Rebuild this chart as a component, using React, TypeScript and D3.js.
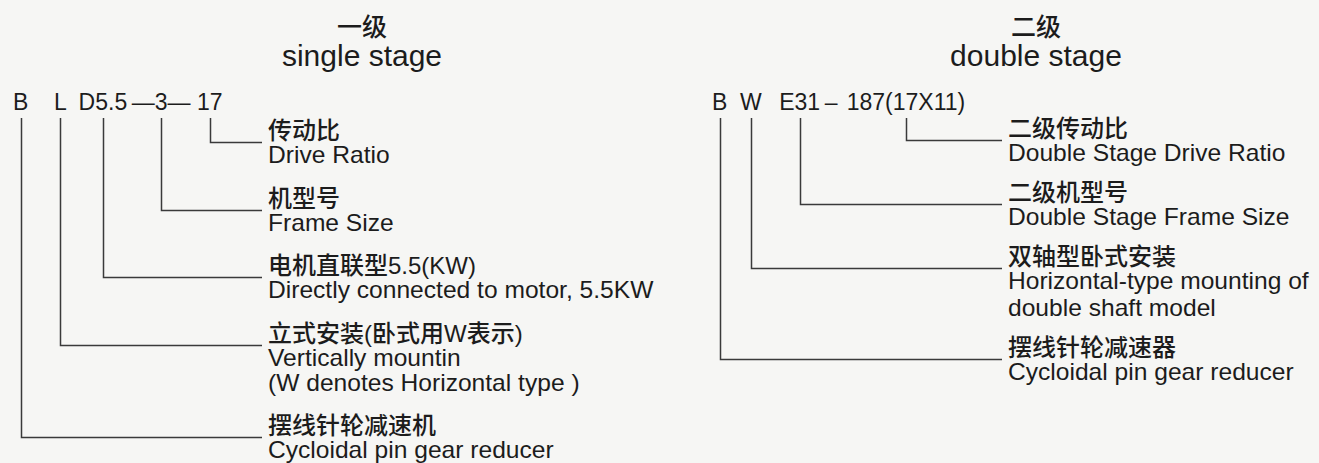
import { useEffect, useRef } from "react";
import * as d3 from "d3";

const WIDTH = 1319;
const HEIGHT = 463;

// single stage
const singleTitleCn = "一级";
const singleTitleEn = "single stage";
const singleCode = "B    L  D5.5\u2009—3— 17";
const singleAnchors = ["17", "3", "D5.5", "L", "B"];
const singleCn = [
  "传动比",
  "机型号",
  "电机直联型5.5(KW)",
  "立式安装(卧式用W表示)",
  "摆线针轮减速机",
];
const singleEn = [
  ["Drive Ratio"],
  ["Frame Size"],
  ["Directly connected to motor, 5.5KW"],
  ["Vertically mountin", "(W denotes Horizontal type )"],
  ["Cycloidal pin gear reducer"],
];

// double stage
const doubleTitleCn = "二级";
const doubleTitleEn = "double stage";
const doubleCode = "B  W  \u2009E31\u2009–\u2009\u2009187(17X11)";
const doubleAnchors = ["17", "E31", "W", "B"];
const doubleCn = ["二级传动比", "二级机型号", "双轴型卧式安装", "摆线针轮减速器"];
const doubleEn = [
  ["Double Stage Drive Ratio"],
  ["Double Stage Frame Size"],
  ["Horizontal-type mounting of", "double shaft model"],
  ["Cycloidal pin gear reducer"],
];

const LATIN = "'Liberation Sans', Arial, Helvetica, sans-serif";
const MIXED = "'Liberation Sans', 'Noto Sans CJK SC', sans-serif";
const CJK = "'Noto Sans CJK SC', 'Noto Sans', sans-serif";
const INK = "#1c1c1c";
const LINE = "#3a3a3a";
const EN_STRETCH = 1.07;

interface PanelLayout {
  titleX: number;
  codeX: number;
  labelX: number;
  firstCn: number;
  cnToEn: number;
  enLine: number;
  enToCn: number;
}

const LEFT: PanelLayout = { titleX: 362, codeX: 13, labelX: 268, firstCn: 139, cnToEn: 24, enLine: 25, enToCn: 43.5 };
const RIGHT: PanelLayout = { titleX: 1036, codeX: 712, labelX: 1008, firstCn: 137, cnToEn: 24, enLine: 26.5, enToCn: 40 };

function drawPanel(
  svg: d3.Selection<SVGSVGElement, unknown, null, undefined>,
  lay: PanelLayout,
  titleCn: string,
  titleEn: string,
  code: string,
  anchors: string[],
  cn: string[],
  en: string[][]
) {
  const g = svg.append("g");

  g.append("text")
    .attr("x", lay.titleX)
    .attr("y", 36)
    .attr("text-anchor", "middle")
    .attr("font-family", CJK)
    .attr("font-size", 25)
    .attr("font-weight", 500)
    .attr("fill", INK)
    .text(titleCn);

  g.append("text")
    .attr("x", lay.titleX)
    .attr("y", 66)
    .attr("text-anchor", "middle")
    .attr("font-family", LATIN)
    .attr("font-size", 30)
    .attr("fill", INK)
    .text(titleEn);

  const codeText = g
    .append("text")
    .attr("x", lay.codeX)
    .attr("y", 110)
    .attr("font-family", LATIN)
    .attr("font-size", 23)
    .attr("fill", INK)
    .style("white-space", "pre")
    .text(code);
  const node = codeText.node() as SVGTextElement;

  // baseline of every label row, stacked from the top
  const rowY: number[] = [];
  let y = lay.firstCn;
  en.forEach((lines) => {
    rowY.push(y);
    y += lay.cnToEn + (lines.length - 1) * lay.enLine + lay.enToCn;
  });

  anchors.forEach((a, i) => {
    const idx = code.indexOf(a);
    const x0 = node.getStartPositionOfChar(idx).x;
    const x1 = node.getEndPositionOfChar(idx + a.length - 1).x;
    const ax = Math.round((x0 + x1) / 2) + 0.5;
    const ly = Math.round(rowY[i] + 3) + 0.5;

    const p = d3.path();
    p.moveTo(ax, 118);
    p.lineTo(ax, ly);
    p.lineTo(lay.labelX - 6, ly);
    g.append("path")
      .attr("d", p.toString())
      .attr("fill", "none")
      .attr("stroke", LINE)
      .attr("stroke-width", 1.5);

    g.append("text")
      .attr("x", lay.labelX)
      .attr("y", rowY[i])
      .attr("font-family", MIXED)
      .attr("font-size", 24)
      .attr("font-weight", 500)
      .attr("fill", INK)
      .text(cn[i]);

    en[i].forEach((line, j) => {
      g.append("text")
        .attr(
          "transform",
          `translate(${lay.labelX},${rowY[i] + lay.cnToEn + j * lay.enLine}) scale(${EN_STRETCH},1)`
        )
        .attr("font-family", LATIN)
        .attr("font-size", 23)
        .attr("fill", INK)
        .text(line);
    });
  });
}

export default function App() {
  const svgRef = useRef<SVGSVGElement>(null);

  useEffect(() => {
    if (!svgRef.current) return;
    const svg = d3.select(svgRef.current);
    svg.selectAll("*").remove();

    svg.append("rect").attr("width", WIDTH).attr("height", HEIGHT).attr("fill", "#f6f6f4");

    drawPanel(svg, LEFT, singleTitleCn, singleTitleEn, singleCode, singleAnchors, singleCn, singleEn);
    drawPanel(svg, RIGHT, doubleTitleCn, doubleTitleEn, doubleCode, doubleAnchors, doubleCn, doubleEn);
  }, []);

  return (
    <div style={{ position: "fixed", left: 0, top: 0 }}>
      <svg ref={svgRef} width={WIDTH} height={HEIGHT} style={{ display: "block" }} />
    </div>
  );
}
